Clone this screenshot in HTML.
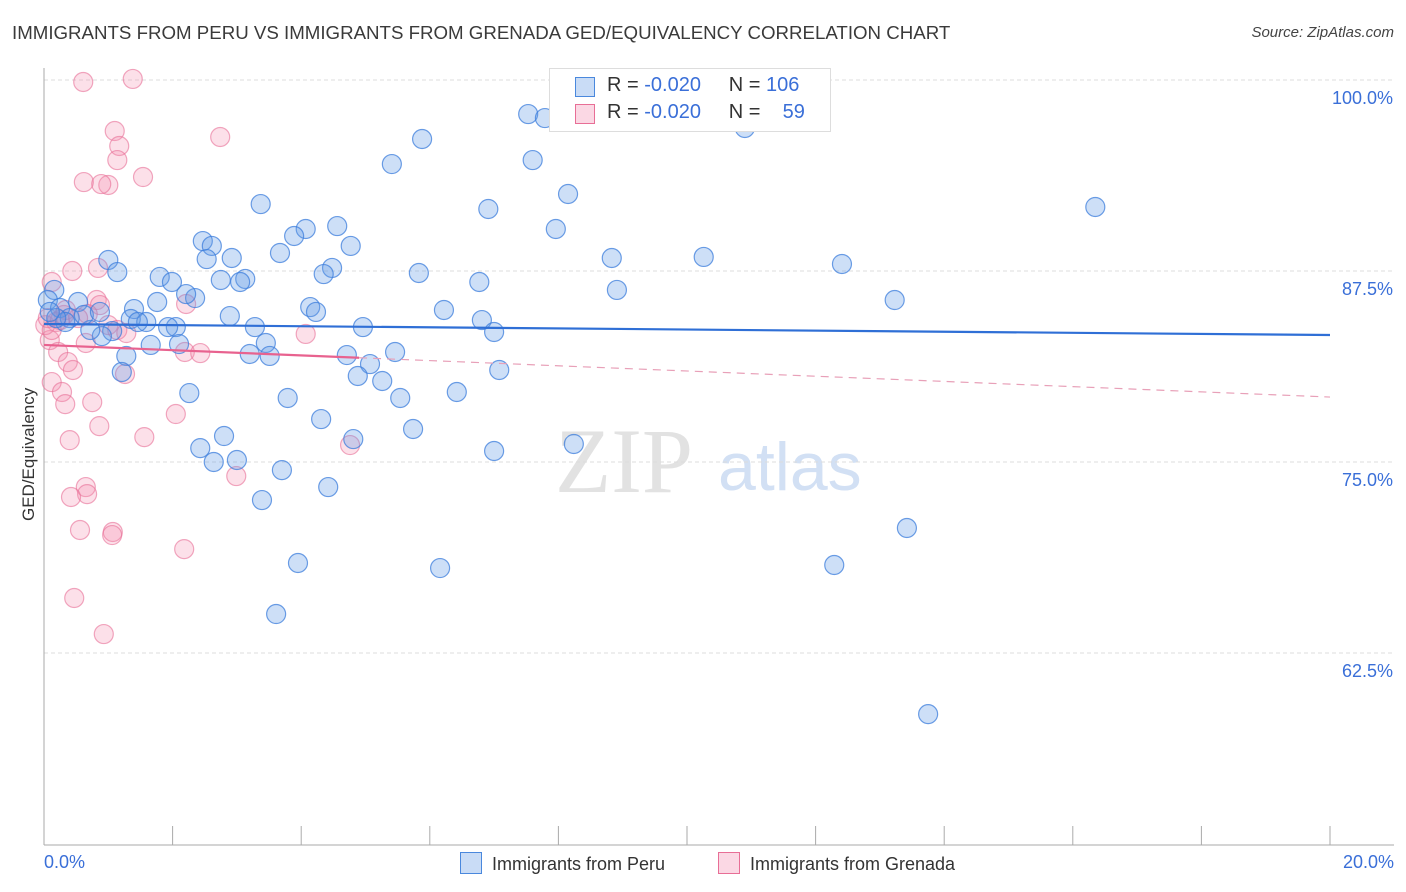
<!DOCTYPE html>
<html><head><meta charset="utf-8"><style>
body{margin:0;background:#fff;font-family:"Liberation Sans",sans-serif;}
#wrap{position:relative;width:1406px;height:892px;overflow:hidden;}
.t{position:absolute;white-space:nowrap;}
</style></head><body>
<div id="wrap">
<div class="t" style="left:12px;top:22px;font-size:18.7px;color:#3a3a3a;">IMMIGRANTS FROM PERU VS IMMIGRANTS FROM GRENADA GED/EQUIVALENCY CORRELATION CHART</div>
<div class="t" style="right:12px;top:24px;font-size:15px;color:#444;font-style:italic;">Source: ZipAtlas.com</div>
<svg id="chart" width="1406" height="892" style="position:absolute;left:0;top:0"></svg>
</div>
<script>
const peruX=[7.53,7.79,10.90,5.88,5.41,7.60,8.15,3.37,6.91,16.35,7.96,4.56,4.07,3.89,2.47,2.61,4.77,3.67,2.53,2.92,1.00,8.83,10.26,12.41,1.14,4.48,4.35,5.83,1.80,2.75,1.99,3.13,3.05,6.77,8.91,0.16,0.53,2.35,2.21,1.76,13.23,4.14,4.23,1.40,6.22,2.89,1.35,1.59,1.46,6.81,3.28,4.96,2.05,1.93,7.00,1.06,0.90,0.72,3.45,2.10,1.66,5.46,4.71,3.20,3.51,1.28,5.07,7.08,4.88,1.21,5.26,6.42,2.26,3.79,5.54,4.31,5.74,4.81,2.80,2.43,8.24,7.00,3.00,2.64,3.70,4.42,3.39,13.42,3.95,6.16,12.29,3.61,13.75,0.06,0.25,0.40,0.33,0.62,0.87,0.19,0.09];
const peruY=[97.77,97.51,96.86,96.14,94.50,94.76,92.54,91.88,91.56,91.69,90.25,90.44,90.25,89.79,89.46,89.14,89.14,88.68,88.28,88.35,88.22,88.35,88.42,87.96,87.43,87.70,87.30,87.37,87.11,86.91,86.78,86.98,86.78,86.78,86.26,86.26,85.47,85.73,85.99,85.47,85.60,85.14,84.82,85.01,84.95,84.55,84.36,84.16,84.16,84.29,83.83,83.83,83.83,83.83,83.51,83.57,83.24,83.64,82.79,82.72,82.66,82.20,82.00,82.07,81.94,81.94,81.41,81.02,80.63,80.89,80.30,79.58,79.51,79.19,79.19,77.81,77.16,76.50,76.70,75.91,76.18,75.72,75.13,75.00,74.47,73.36,72.51,70.68,68.39,68.06,68.26,65.05,58.50,85.60,85.08,84.42,84.16,84.62,84.82,84.42,84.82];
const grenX=[1.38,0.61,1.10,2.74,1.17,1.14,1.54,0.62,1.00,0.89,0.12,0.44,0.84,0.82,2.21,0.87,0.68,0.31,0.19,1.00,1.14,1.28,0.09,0.65,2.19,2.43,4.07,0.22,0.37,0.45,1.26,0.12,0.28,0.33,0.75,2.05,0.86,0.40,1.56,4.76,2.99,0.65,0.67,0.42,0.56,1.07,1.06,2.18,0.47,0.93,0.02,0.06,0.25,0.53,0.34,0.12];
const grenY=[100.07,99.87,96.66,96.27,95.68,94.76,93.65,93.32,93.13,93.19,86.78,87.50,87.70,85.60,85.34,85.27,84.68,84.62,84.16,83.96,83.64,83.44,82.98,82.79,82.20,82.13,83.38,82.20,81.54,81.02,80.76,80.23,79.58,78.79,78.92,78.14,77.35,76.43,76.63,76.11,74.08,73.36,72.90,72.71,70.55,70.42,70.22,69.30,66.10,63.74,83.96,84.42,84.29,84.42,84.95,83.64];
const yTicks=[100,87.5,75,62.5];
const yTickLabels=["100.0%","87.5%","75.0%","62.5%"];
const peruTrend=[84.03,83.31];
const grenTrend=[82.66,79.25];
const grenSolidEnd=4.9;

const svg=document.getElementById('chart');
const NS='http://www.w3.org/2000/svg';
const X=v=>44+v/20*1286;
const Y=v=>80+(100-v)/12.5*191;
function mk(tag,attrs,parent){const e=document.createElementNS(NS,tag);for(const k in attrs)e.setAttribute(k,attrs[k]);(parent||svg).appendChild(e);return e;}

let w1=mk('text',{x:555,y:492,'font-family':'Liberation Serif,serif','font-size':92,fill:'#e2e2e2'});w1.textContent='ZIP';


let w2=mk('text',{x:718,y:490,'font-family':'Liberation Sans,sans-serif','font-size':68,fill:'#d2e0f4'});w2.textContent='atlas';



yTicks.forEach((t,i)=>{
 const g=mk('line',{x1:44,x2:1394,y1:Y(t),y2:Y(t),stroke:'#dcdcdc','stroke-dasharray':'4,3'});
 
 
 const l=mk('text',{x:1393,y:Y(t)+24,'text-anchor':'end','font-size':18,fill:'#3a6fd8','font-family':'Liberation Sans,sans-serif'});
 l.textContent=yTickLabels[i];
 
 
});
let ax=mk('line',{x1:44,x2:44,y1:68,y2:845,stroke:'#aaa'});


let bx=mk('line',{x1:44,x2:1394,y1:845,y2:845,stroke:'#aaa'});


for(let i=0;i<=10;i++){
 const tk=mk('line',{x1:X(i*2),x2:X(i*2),y1:826,y2:845,stroke:'#aaa'});
 
 
}
function dots(xs,ys,fill,stroke,name){
 xs.forEach((x,i)=>{
  const c=mk('circle',{cx:X(x),cy:Y(ys[i]),r:9.5,fill:fill,stroke:stroke,'stroke-width':1.2});
  
  
 });
}
dots(grenX,grenY,'rgba(244,143,177,0.28)','rgba(232,110,150,0.6)','grenada-point');
dots(peruX,peruY,'rgba(100,155,230,0.32)','rgba(60,125,220,0.75)','peru-point');

let pl=mk('line',{x1:X(0),y1:Y(peruTrend[0]),x2:X(20),y2:Y(peruTrend[1]),stroke:'#2f6fd6','stroke-width':2.2});


const gy=v=>grenTrend[0]+(grenTrend[1]-grenTrend[0])*v/20;
let gl=mk('line',{x1:X(0),y1:Y(gy(0)),x2:X(grenSolidEnd),y2:Y(gy(grenSolidEnd)),stroke:'#e8628f','stroke-width':2.2});


let gd=mk('line',{x1:X(grenSolidEnd),y1:Y(gy(grenSolidEnd)),x2:X(20),y2:Y(gy(20)),stroke:'#e8a0b8','stroke-width':1.2,'stroke-dasharray':'8,6'});


</script>
<div class="t" style="left:-36px;top:446px;font-size:17px;color:#333;transform:rotate(-90deg);transform-origin:center;width:130px;text-align:center;">GED/Equivalency</div>
<div class="t" style="left:44px;top:852px;font-size:18px;color:#3a6fd8;">0.0%</div>
<div class="t" style="right:12px;top:852px;font-size:18px;color:#3a6fd8;">20.0%</div>
<div style="position:absolute;left:549px;top:68px;width:280px;height:62px;border:1px solid #ddd;background:#fff;font-size:20px;">
 <div style="position:absolute;left:25px;top:8px;width:18px;height:18px;background:rgba(100,155,230,0.35);border:1px solid #4a88dd;"></div>
 <div class="t" style="left:57px;top:5px;color:#333;">R = <span style="color:#3a6fd8">-0.020</span>&nbsp;&nbsp;&nbsp;&nbsp; N = <span style="color:#3a6fd8">106</span></div>
 <div style="position:absolute;left:25px;top:35px;width:18px;height:18px;background:rgba(244,143,177,0.35);border:1px solid #e86e96;"></div>
 <div class="t" style="left:57px;top:32px;color:#333;">R = <span style="color:#3a6fd8">-0.020</span>&nbsp;&nbsp;&nbsp;&nbsp; N = &nbsp;&nbsp;&nbsp;<span style="color:#3a6fd8">59</span></div>
</div>
<div style="position:absolute;left:460px;top:852px;font-size:18px;color:#333;">
 <div class="t" style="left:0;top:0;"><span style="display:inline-block;width:20px;height:20px;background:rgba(100,155,230,0.35);border:1px solid #4a88dd;vertical-align:-4px;margin-right:10px;"></span>Immigrants from Peru</div>
 <div class="t" style="left:258px;top:0;"><span style="display:inline-block;width:20px;height:20px;background:rgba(244,143,177,0.35);border:1px solid #e86e96;vertical-align:-4px;margin-right:10px;"></span>Immigrants from Grenada</div>
</div>
</body></html>
